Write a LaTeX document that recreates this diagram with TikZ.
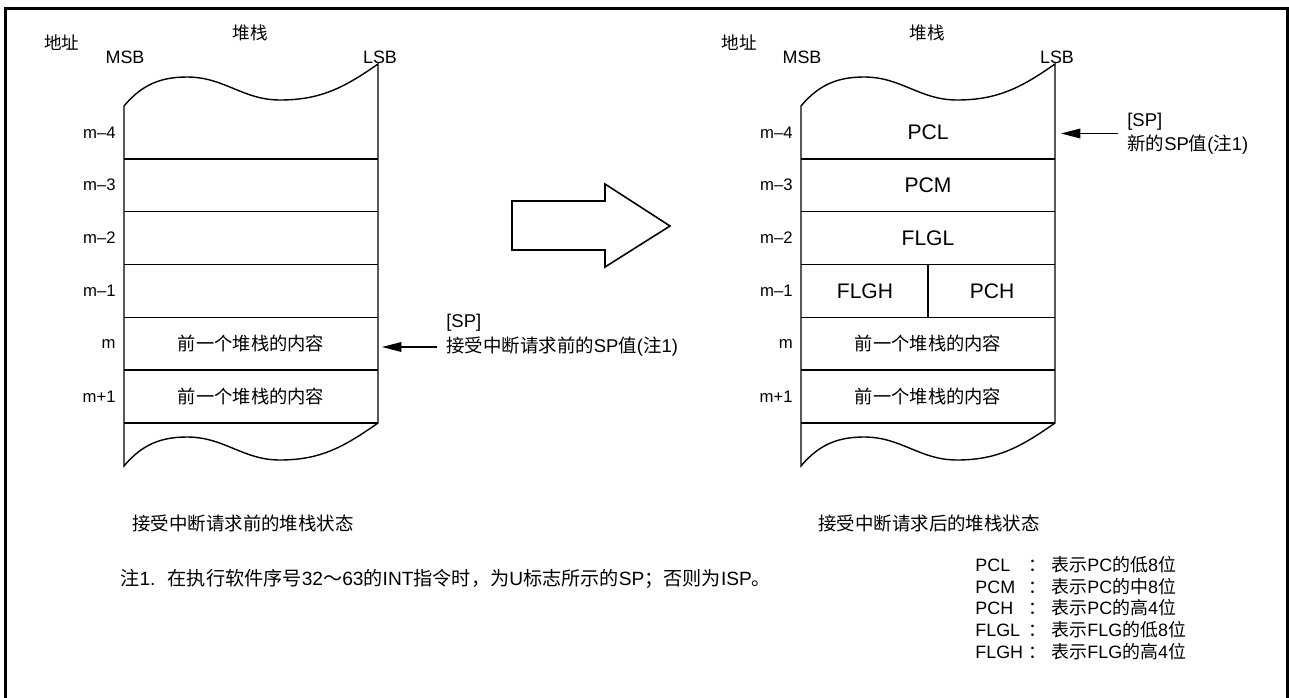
\documentclass[tikz,border=0pt]{standalone}
\usepackage{fontspec}
\setmainfont{Liberation Sans}
\newfontfamily\cjk{Noto Sans CJK SC}
\usetikzlibrary{arrows.meta}
\usetikzlibrary{math}
\newcommand{\zh}[1]{{\cjk #1}}

\tikzset{
  frameline/.style={line width=1.8pt},
  stackline/.style={line width=0.8pt},
  headtext/.style={font=\fontsize{10}{12}\selectfont},
  bittext/.style={font=\fontsize{10.2}{12}\selectfont},
  addrtext/.style={anchor=east, inner sep=0pt, font=\fontsize{9.5}{11}\selectfont},
  celltext/.style={font=\fontsize{12}{14}\selectfont},
  sptext/.style={anchor=west, inner sep=0pt, align=left, font=\fontsize{10.5}{13.6}\selectfont},
  sparrow/.style={-{Triangle[length=11pt,width=5.5pt]}, line width=0.7pt, shorten <=5pt},
  notetext/.style={anchor=west, inner sep=0pt, font=\fontsize{10.5}{12.6}\selectfont},
}

\begin{document}
\begin{tikzpicture}[x=0.02cm,y=0.02cm]
\tikzmath{
\xl=124;
\xr=378;
\ytop=106;
\rh=52.83;
}
\useasboundingbox (0,0) rectangle (1289,-697);
%frame
\draw[frameline] (5.5,-705) -- (5.5,-8.5) -- (1287.5,-8.5) -- (1287.5,-705);

%both stacks
\foreach \s/\dx in {l/0,r/677}{
\begin{scope}[xshift=\dx*0.02cm]
\draw[stackline] (\xl,-\ytop) to[out=50,in=180] (187,-77) to[out=0,in=180] (280,-100)
  to[out=0,in=215] (\xr,-64) -- (\xr,-423)
  to[out=215,in=0] (280,-460) to[out=180,in=0] (187,-437) to[out=180,in=50] (\xl,-466) -- cycle;
\foreach \i in {1,...,6}
  \draw[stackline] (\xl,{-\ytop-\rh*\i}) -- (\xr,{-\ytop-\rh*\i});
\foreach \lab [count=\i from 0] in {m–4,m–3,m–2,m–1,m,m+1}
  \node[addrtext] (\s row\i) at (116,{-\ytop-\rh*(\i+0.5)}) {\lab};
\node[headtext] (\s addr) at (62,-43) {\zh{地址}};
\node[headtext] (\s stack) at (250,-33) {\zh{堆栈}};
\node[bittext] (\s msb) at (125,-57) {MSB};
\node[bittext] (\s lsb) at (380,-57) {LSB};
\node[celltext] (\s cellm) at (251,{-\ytop-\rh*4.5}) {\zh{\fontsize{10.4}{12}\selectfont 前一个堆栈的内容}};
\node[celltext] (\s cellmp) at (251,{-\ytop-\rh*5.5}) {\zh{\fontsize{10.4}{12}\selectfont 前一个堆栈的内容}};
\end{scope}
}

%new contents
\node[celltext] (rpcl) at (928,{-\ytop-\rh*0.5}) {PCL};
\node[celltext] (rpcm) at (928,{-\ytop-\rh*1.5}) {PCM};
\node[celltext] (rflgl) at (928,{-\ytop-\rh*2.5}) {FLGL};
\node[celltext] (rflgh) at (865,{-\ytop-\rh*3.5}) {FLGH};
\node[celltext] (rpch) at (992,{-\ytop-\rh*3.5}) {PCH};
\draw[stackline] (928,{-\ytop-\rh*3}) -- (928,{-\ytop-\rh*4});

%big arrow
\draw[line width=0.9pt] (512,-201) -- (605,-201) -- (605,-184) -- (670,-226)
  -- (605,-267) -- (605,-250) -- (512,-250) -- cycle;

%SP pointers
\node[sptext] (lsptag) at (446,-323) {[SP]};
\node[sptext] (lspval) at (446,-347) {\zh{接受中断请求前的}SP\zh{值}(\zh{注}1)};
\coordinate (ltip) at (382,-346);
\draw[sparrow] (lspval.west) -- (lspval.west -| ltip);

\node[sptext] (rsp) at (1127,-133.5) {[SP]\\\zh{新的}SP\zh{值}(\zh{注}1)};
\coordinate (rtip) at (1061,-133);
\draw[sparrow] (rsp.west) -- (rsp.west -| rtip);

%captions
\node[notetext] (lcap) at (132,-523) {\zh{接受中断请求前的堆栈状态}};
\node[notetext] (rcap) at (818,-523) {\zh{接受中断请求后的堆栈状态}};
\node[notetext, font=\fontsize{10.9}{13}\selectfont] (note) at (120,-579) {\zh{注}1.\hspace{7pt}\zh{在执行软件序号}32\zh{～}63\zh{的}INT\zh{指令时，为}U\zh{标志所示的}SP\zh{；否则为}ISP\zh{。}};

%legend
\node[anchor=base west, inner sep=0pt, font=\fontsize{10.2}{12.3}\selectfont] (legend) at (975,-571.5)
{\begin{tabular}[t]{@{}l@{\hspace{3pt}}l@{\hspace{3pt}}l@{}}
PCL & \zh{：} & \zh{表示}PC\zh{的低}8\zh{位}\\
PCM & \zh{：} & \zh{表示}PC\zh{的中}8\zh{位}\\
PCH & \zh{：} & \zh{表示}PC\zh{的高}4\zh{位}\\
FLGL & \zh{：} & \zh{表示}FLG\zh{的低}8\zh{位}\\
FLGH & \zh{：} & \zh{表示}FLG\zh{的高}4\zh{位}
\end{tabular}};
\end{tikzpicture}
\end{document}
